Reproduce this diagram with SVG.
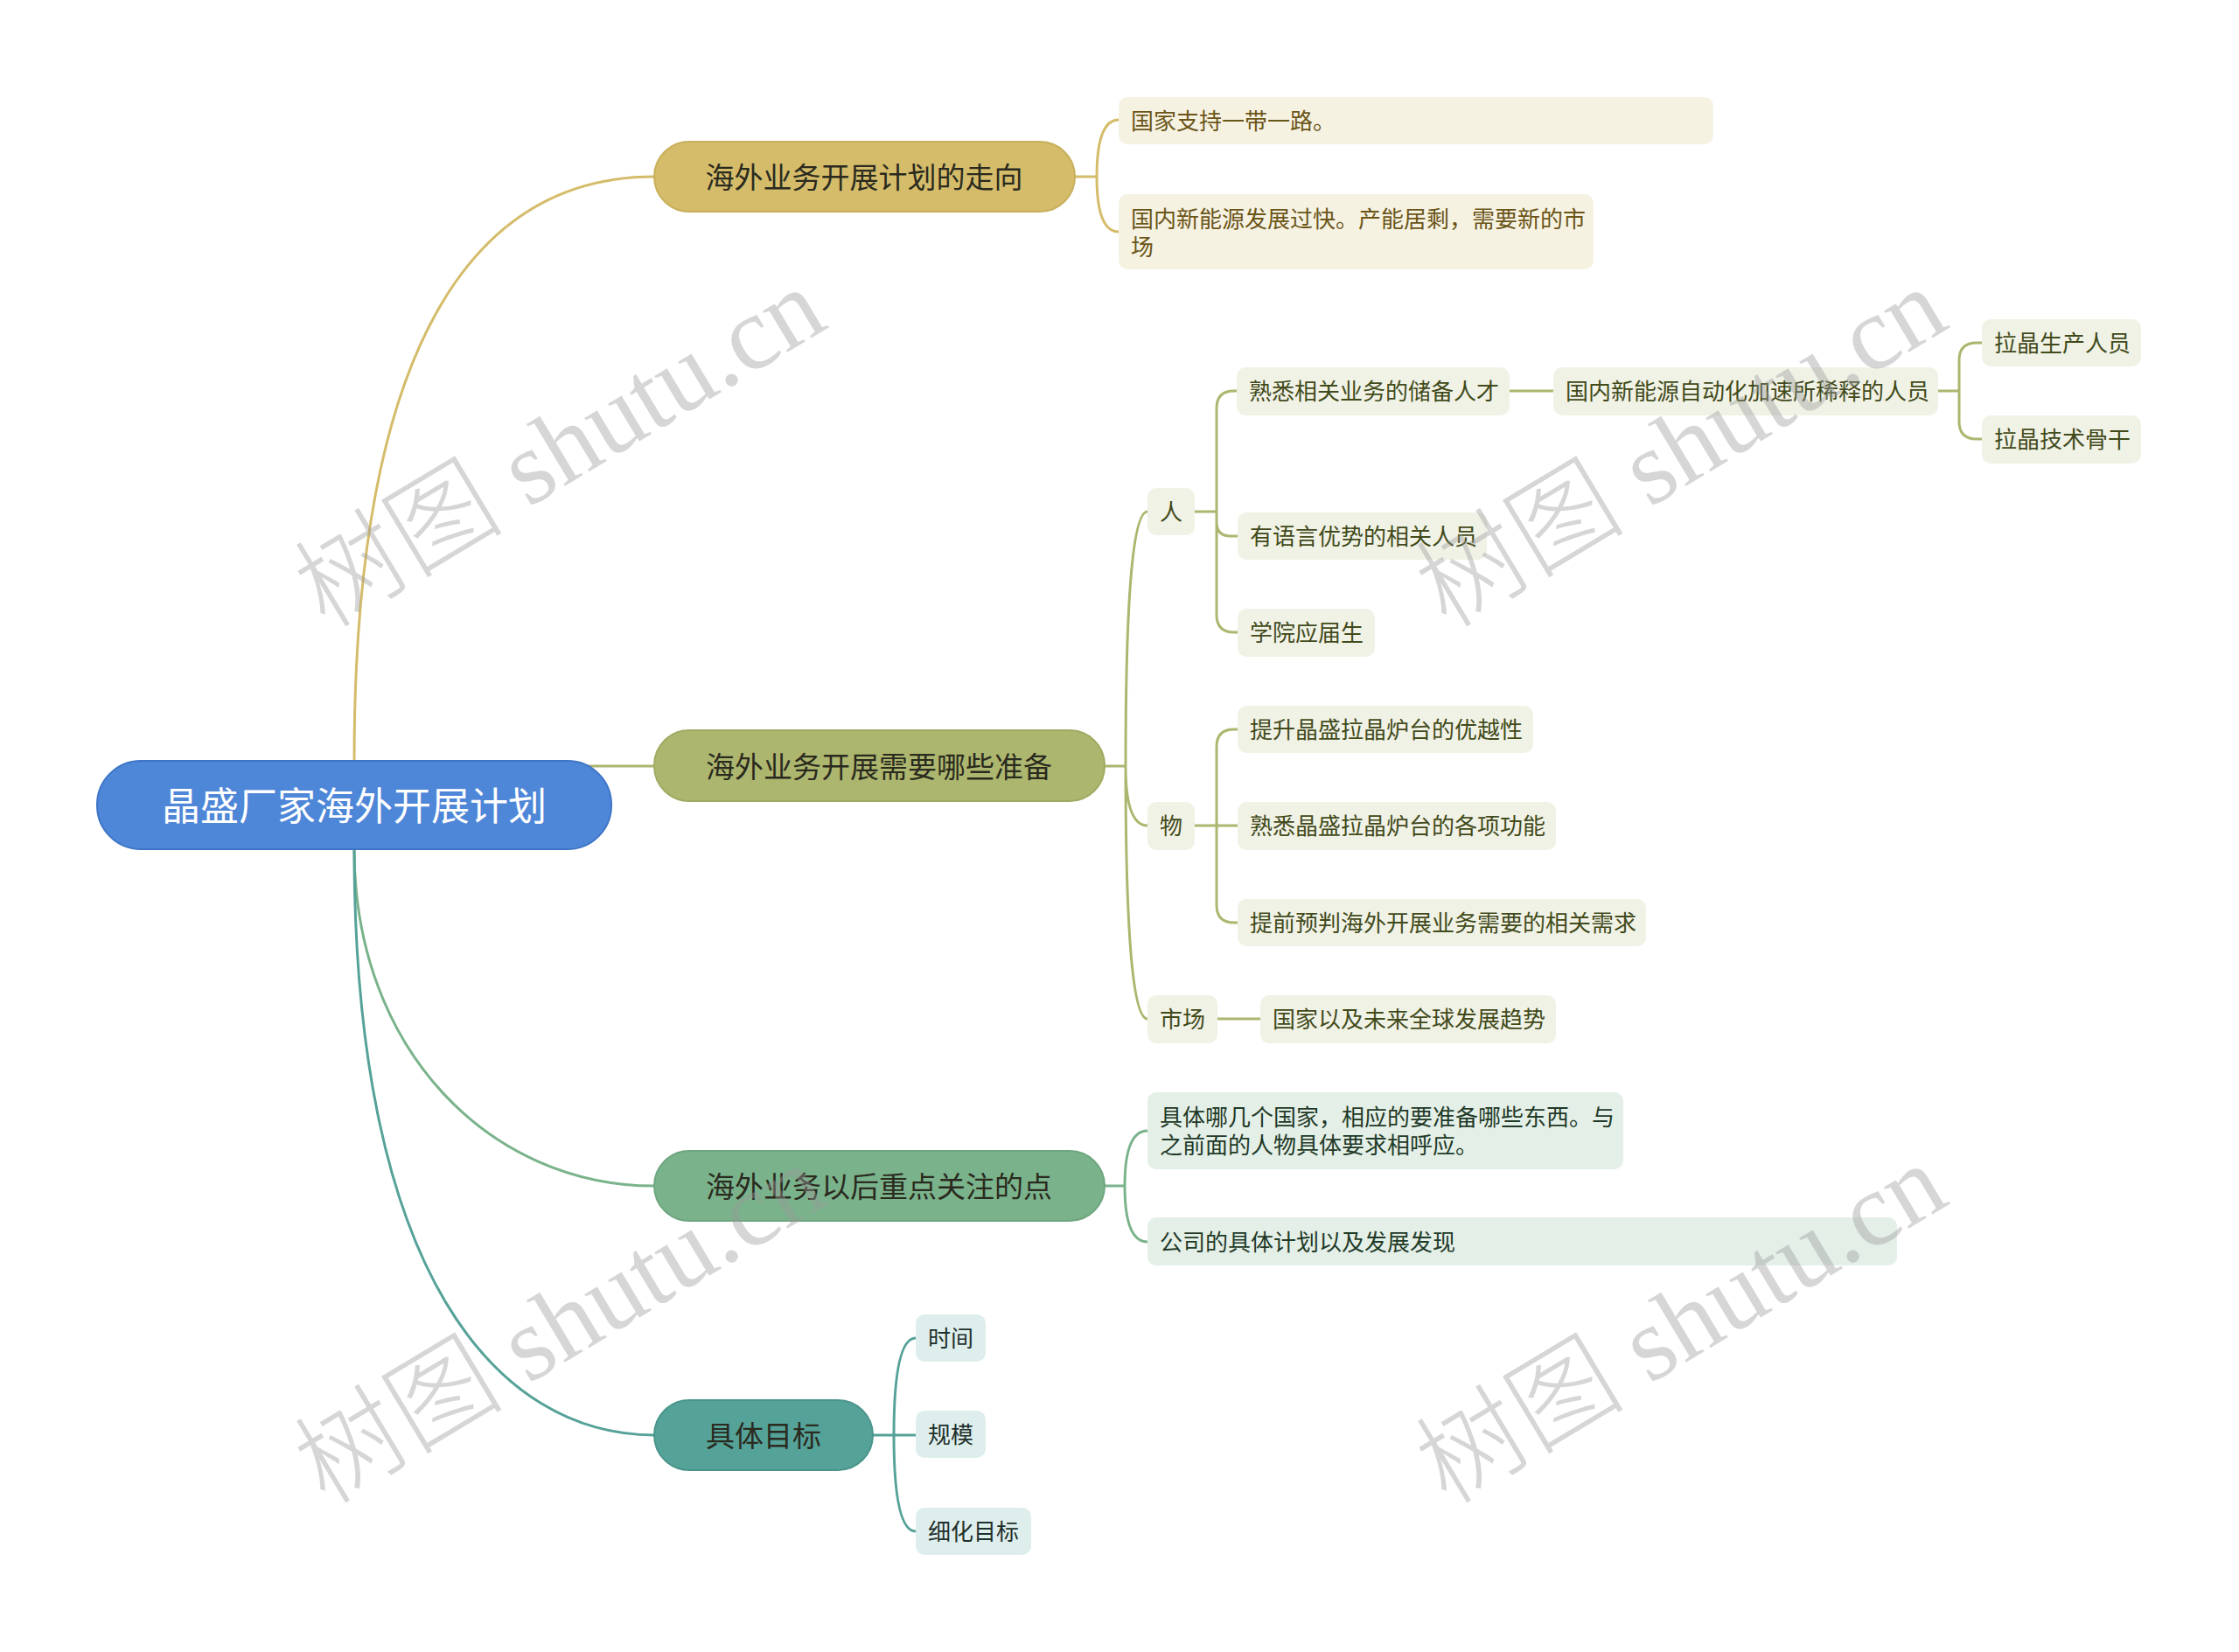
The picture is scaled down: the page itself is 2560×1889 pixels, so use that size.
<svg xmlns="http://www.w3.org/2000/svg" width="2560" height="1889" viewBox="0 0 2560 1889">
<style>
text{font-family:"Liberation Sans","Noto Sans CJK SC",sans-serif;dominant-baseline:central}
.c{fill:none;stroke-width:3;stroke-linecap:round}
.g1{stroke:#d4bc6a}.g2{stroke:#adb66e}.g3{stroke:#7ab38b}.g4{stroke:#55a298}
.leaf{font-size:26px}
.l1 rect{fill:#f6f2e2}.l1 text{fill:#6b5518}
.l2 rect{fill:#f1f2e6}.l2 text{fill:#414a1a}
.l3 rect{fill:#e4efe8}.l3 text{fill:#1f3a27}
.l4 rect{fill:#deeeec}.l4 text{fill:#1e302d}
.br text{font-size:33px;fill:#2a2a1e;text-anchor:middle}
.wm{font-family:"Liberation Serif","Noto Sans CJK SC",serif;font-size:120px;font-weight:300;fill:#9a9a9a;opacity:0.4;text-anchor:middle}
</style>
<rect width="2560" height="1889" fill="#ffffff"/>
<g id="connectors">
<path class="c g1" d="M405,870 C405,300 600,202 748,202"/>
<path class="c g2" d="M640,876 L748,876"/>
<path class="c g3" d="M405,971 C405,1200 560,1356 748,1356"/>
<path class="c g4" d="M405,971 C405,1460 570,1641 748,1641"/>
<path class="c g1" d="M1229,202 L1254,202 M1254,202 Q1254,137 1279,137 M1254,202 Q1254,265 1279,265"/>
<path class="c g2" d="M1262,876 L1287,876 M1287,876 Q1287,585 1312,585 M1287,876 Q1287,944 1312,944 M1287,876 Q1287,1165 1312,1165"/>
<path class="c g3" d="M1262,1356 L1286,1356 M1286,1356 Q1286,1293 1312,1293 M1286,1356 Q1286,1420 1312,1420"/>
<path class="c g4" d="M998,1641 L1022,1641 M1022,1641 Q1022,1530 1047,1530 M1022,1641 L1047,1641 M1022,1641 Q1022,1751 1047,1751"/>
<path class="c g2" d="M1366,585 L1391,585 M1391,585 L1391,467 Q1391,447 1411,447 L1415,447 M1391,585 L1391,597 Q1391,613 1407,613 L1415,613 M1391,585 L1391,703 Q1391,723 1411,723 L1415,723"/>
<path class="c g2" d="M1366,944 L1415,944 M1391,944 L1391,854 Q1391,834 1411,834 L1415,834 M1391,944 L1391,1035 Q1391,1055 1411,1055 L1415,1055"/>
<path class="c g2" d="M1392,1165 L1441,1165"/>
<path class="c g2" d="M1726,447 L1776,447"/>
<path class="c g2" d="M2216,447 L2240,447 M2240,447 L2240,412 Q2240,392 2260,392 L2266,392 M2240,447 L2240,482 Q2240,502 2260,502 L2266,502"/>
</g>
<g id="root">
<rect x="111" y="870" width="588" height="101" rx="50" fill="#4e86d8" stroke="#3f75c6" stroke-width="2"/>
<text x="405" y="922" font-size="44" fill="#ffffff" text-anchor="middle">晶盛厂家海外开展计划</text>
</g>
<g id="b1" class="br">
<rect x="748" y="162" width="481" height="80" rx="40" fill="#d4bc6a" stroke="#c8af5c" stroke-width="2"/>
<text x="988" y="203">海外业务开展计划的走向</text>
</g>
<g id="b2" class="br">
<rect x="748" y="835" width="515" height="81" rx="40" fill="#adb66e" stroke="#a1aa62" stroke-width="2"/>
<text x="1005" y="877">海外业务开展需要哪些准备</text>
</g>
<g id="b3" class="br">
<rect x="748" y="1316" width="515" height="80" rx="40" fill="#7ab38b" stroke="#6ea67f" stroke-width="2"/>
<text x="1005" y="1357">海外业务以后重点关注的点</text>
</g>
<g id="b4" class="br">
<rect x="748" y="1601" width="250" height="80" rx="40" fill="#55a298" stroke="#4a958b" stroke-width="2"/>
<text x="873" y="1642">具体目标</text>
</g>
<g id="b1c1" class="l1 leaf"><rect x="1279" y="111" width="680" height="54" rx="10"/><text x="1293" y="139">国家支持一带一路。</text></g>
<g id="b1c2" class="l1 leaf"><rect x="1279" y="222" width="543" height="86" rx="10"/><text x="1293" y="251">国内新能源发展过快。产能居剩，需要新的市</text><text x="1293" y="283">场</text></g>
<g id="ren" class="l2 leaf"><rect x="1312" y="558" width="54" height="54" rx="10"/><text x="1326" y="586">人</text></g>
<g id="ren1" class="l2 leaf"><rect x="1414" y="420" width="312" height="55" rx="10"/><text x="1428" y="448">熟悉相关业务的储备人才</text></g>
<g id="ren1a" class="l2 leaf"><rect x="1776" y="420" width="440" height="55" rx="10"/><text x="1790" y="448">国内新能源自动化加速所稀释的人员</text></g>
<g id="ren1a1" class="l2 leaf"><rect x="2266" y="365" width="182" height="54" rx="10"/><text x="2280" y="393">拉晶生产人员</text></g>
<g id="ren1a2" class="l2 leaf"><rect x="2266" y="475" width="182" height="55" rx="10"/><text x="2280" y="503">拉晶技术骨干</text></g>
<g id="ren2" class="l2 leaf"><rect x="1415" y="586" width="285" height="54" rx="10"/><text x="1429" y="614">有语言优势的相关人员</text></g>
<g id="ren3" class="l2 leaf"><rect x="1415" y="696" width="157" height="55" rx="10"/><text x="1429" y="724">学院应届生</text></g>
<g id="wu" class="l2 leaf"><rect x="1312" y="917" width="54" height="55" rx="10"/><text x="1326" y="945">物</text></g>
<g id="wu1" class="l2 leaf"><rect x="1415" y="807" width="338" height="54" rx="10"/><text x="1429" y="835">提升晶盛拉晶炉台的优越性</text></g>
<g id="wu2" class="l2 leaf"><rect x="1415" y="917" width="364" height="55" rx="10"/><text x="1429" y="945">熟悉晶盛拉晶炉台的各项功能</text></g>
<g id="wu3" class="l2 leaf"><rect x="1415" y="1028" width="467" height="54" rx="10"/><text x="1429" y="1056">提前预判海外开展业务需要的相关需求</text></g>
<g id="sc" class="l2 leaf"><rect x="1312" y="1138" width="80" height="55" rx="10"/><text x="1326" y="1166">市场</text></g>
<g id="sc1" class="l2 leaf"><rect x="1441" y="1138" width="338" height="55" rx="10"/><text x="1455" y="1166">国家以及未来全球发展趋势</text></g>
<g id="b3c1" class="l3 leaf"><rect x="1312" y="1249" width="544" height="88" rx="10"/><text x="1326" y="1278">具体哪几个国家，相应的要准备哪些东西。与</text><text x="1326" y="1310">之前面的人物具体要求相呼应。</text></g>
<g id="b3c2" class="l3 leaf"><rect x="1312" y="1392" width="857" height="55" rx="10"/><text x="1326" y="1421">公司的具体计划以及发展发现</text></g>
<g id="b4c1" class="l4 leaf"><rect x="1047" y="1503" width="80" height="54" rx="10"/><text x="1061" y="1531">时间</text></g>
<g id="b4c2" class="l4 leaf"><rect x="1047" y="1613" width="80" height="54" rx="10"/><text x="1061" y="1641">规模</text></g>
<g id="b4c3" class="l4 leaf"><rect x="1047" y="1724" width="132" height="54" rx="10"/><text x="1061" y="1752">细化目标</text></g>
<g id="watermark">
<text class="wm" transform="translate(640,512) rotate(-31)">树图 shutu.cn</text>
<text class="wm" transform="translate(1922,512) rotate(-31)">树图 shutu.cn</text>
<text class="wm" transform="translate(640,1514) rotate(-31)">树图 shutu.cn</text>
<text class="wm" transform="translate(1922,1514) rotate(-31)">树图 shutu.cn</text>
</g>
</svg>
